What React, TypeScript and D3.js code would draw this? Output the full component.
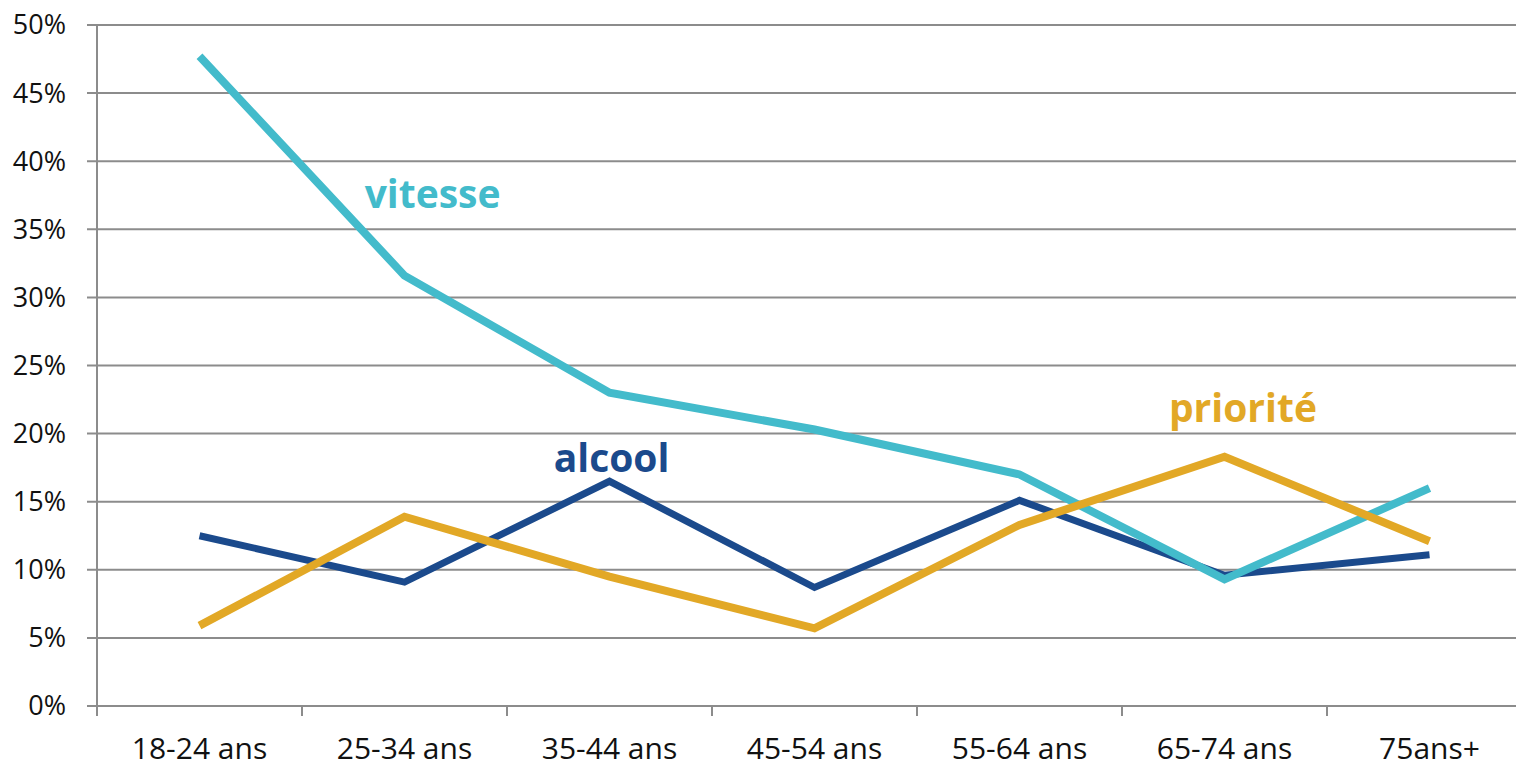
import React, { useEffect, useRef } from 'react';
import * as d3 from 'd3';

const categories = ['18-24 ans', '25-34 ans', '35-44 ans', '45-54 ans', '55-64 ans', '65-74 ans', '75ans+'];
const vitesse = [47.7, 31.6, 23.0, 20.3, 17.0, 9.3, 16.0];
const alcool = [12.5, 9.1, 16.5, 8.7, 15.1, 9.6, 11.1];
const priorite = [5.9, 13.9, 9.5, 5.7, 13.3, 18.3, 12.1];
const yTicks = [0, 5, 10, 15, 20, 25, 30, 35, 40, 45, 50];

const series = [
  { name: 'alcool', values: alcool, color: '#1B4A8C', width: 7, label: { x: 2.01, y: 17.2 } },
  { name: 'vitesse', values: vitesse, color: '#43BBCB', width: 8, label: { x: 1.137, y: 36.6 } },
  { name: 'priorité', values: priorite, color: '#E2A826', width: 8, label: { x: 5.09, y: 20.85 } },
];

const App = () => {
  const svgRef = useRef<SVGSVGElement>(null);
  const width = 1516;
  const height = 769;

  useEffect(() => {
    const svg = d3.select(svgRef.current);
    svg.selectAll('*').remove();
    const font = "'Open Sans', sans-serif";

    const left = 97;
    const band = 205;
    const x = d3.scaleBand<string>()
      .domain(categories)
      .range([left, left + band * categories.length])
      .padding(0);
    const y = d3.scaleLinear().domain([0, 50]).range([706, 25]);
    const cx = (c: string) => (x(c) as number) + x.bandwidth() / 2;

    // gridlines
    svg.append('g')
      .selectAll('line')
      .data(yTicks)
      .enter()
      .append('line')
      .attr('x1', left - 10)
      .attr('x2', width)
      .attr('y1', d => y(d))
      .attr('y2', d => y(d))
      .attr('stroke', '#8c8c8c')
      .attr('stroke-width', 2);

    // y axis line
    svg.append('line')
      .attr('x1', left).attr('x2', left)
      .attr('y1', y(50)).attr('y2', y(0) + 10)
      .attr('stroke', '#8c8c8c').attr('stroke-width', 2);

    // x ticks
    svg.append('g')
      .selectAll('line')
      .data(categories.slice(1))
      .enter()
      .append('line')
      .attr('x1', d => x(d) as number)
      .attr('x2', d => x(d) as number)
      .attr('y1', y(0))
      .attr('y2', y(0) + 10)
      .attr('stroke', '#8c8c8c')
      .attr('stroke-width', 2);

    // y labels
    svg.append('g')
      .selectAll('text')
      .data(yTicks)
      .enter()
      .append('text')
      .attr('x', 66)
      .attr('y', d => y(d))
      .attr('dy', '0.35em')
      .attr('text-anchor', 'end')
      .style('font-family', font)
      .style('font-size', '27px')
      .attr('fill', '#111')
      .text(d => `${d}%`);

    // x labels
    svg.append('g')
      .selectAll('text')
      .data(categories)
      .enter()
      .append('text')
      .attr('x', d => cx(d))
      .attr('y', 759)
      .attr('text-anchor', 'middle')
      .style('font-family', font)
      .style('font-size', '30px')
      .attr('fill', '#111')
      .text(d => d);

    const line = d3.line<number>()
      .x((_, i) => cx(categories[i]))
      .y(d => y(d));

    series.forEach(s => {
      svg.append('path')
        .datum(s.values)
        .attr('d', line)
        .attr('fill', 'none')
        .attr('stroke', s.color)
        .attr('stroke-width', s.width)
        .attr('stroke-linejoin', 'miter');
    });

    series.forEach(s => {
      svg.append('text')
        .attr('x', cx(categories[0]) + s.label.x * band)
        .attr('y', y(s.label.y))
        .attr('text-anchor', 'middle')
        .style('font-family', font)
        .style('font-size', '39px')
        .style('font-weight', 'bold')
        .attr('fill', s.color)
        .text(s.name);
    });
  }, []);

  return (
    <div style={{ position: 'absolute', left: 0, top: 0 }}>
      <svg ref={svgRef} width={width} height={height} style={{ display: 'block' }}></svg>
    </div>
  );
};

export default App;
